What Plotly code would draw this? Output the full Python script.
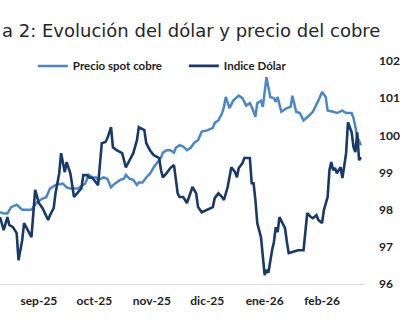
import plotly.graph_objects as go

# Tick labels (month starts)
tick_dates = ["2025-09-01", "2025-10-01", "2025-11-01", "2025-12-01", "2026-01-01", "2026-02-01"]
tick_labels = ["sep-25", "oct-25", "nov-25", "dic-25", "ene-26", "feb-26"]
dollar_ticks = [96, 97, 98, 99, 100, 101, 102]

# Precio spot cobre (US$/lb, left axis - cropped out of view)
copper_dates = [
    "2025-08-11", "2025-08-13", "2025-08-15", "2025-08-17", "2025-08-20", "2025-08-23", "2025-08-25",
    "2025-08-28", "2025-08-31", "2025-09-03", "2025-09-05", "2025-09-07", "2025-09-10", "2025-09-13",
    "2025-09-14", "2025-09-16", "2025-09-18", "2025-09-22", "2025-09-26", "2025-09-28", "2025-09-30",
    "2025-10-02", "2025-10-03", "2025-10-06", "2025-10-08", "2025-10-10", "2025-10-12", "2025-10-15",
    "2025-10-17", "2025-10-18", "2025-10-20", "2025-10-22", "2025-10-24", "2025-10-25", "2025-10-27",
    "2025-10-29", "2025-10-31", "2025-11-02", "2025-11-04", "2025-11-06", "2025-11-07", "2025-11-09",
    "2025-11-11", "2025-11-13", "2025-11-14", "2025-11-16", "2025-11-18", "2025-11-20", "2025-11-22",
    "2025-11-24", "2025-11-26", "2025-11-28", "2025-12-01", "2025-12-04", "2025-12-05", "2025-12-07",
    "2025-12-09", "2025-12-10", "2025-12-11", "2025-12-13", "2025-12-15", "2025-12-17", "2025-12-18",
    "2025-12-20", "2025-12-22", "2025-12-24", "2025-12-25", "2025-12-27", "2025-12-28", "2025-12-30",
    "2025-12-31", "2026-01-02", "2026-01-04", "2026-01-06", "2026-01-07", "2026-01-08", "2026-01-10",
    "2026-01-13", "2026-01-15", "2026-01-16", "2026-01-18", "2026-01-20", "2026-01-22", "2026-01-25",
    "2026-01-27", "2026-01-30", "2026-02-01", "2026-02-03", "2026-02-04", "2026-02-07", "2026-02-09",
    "2026-02-12", "2026-02-14", "2026-02-17", "2026-02-18", "2026-02-19", "2026-02-20", "2026-02-22",
]
copper_values = [
    4.58, 4.57, 4.57, 4.62, 4.64, 4.60, 4.60,
    4.60, 4.66, 4.69, 4.70, 4.77, 4.80, 4.81,
    4.81, 4.78, 4.77, 4.77, 4.81, 4.88, 4.86,
    4.86, 4.84, 4.86, 4.85, 4.78, 4.81, 4.84,
    4.85, 4.88, 4.85, 4.84, 4.80, 4.82, 4.82,
    4.86, 4.89, 4.94, 4.98, 5.02, 5.06, 5.08,
    5.08, 5.06, 5.10, 5.12, 5.11, 5.08, 5.10,
    5.14, 5.16, 5.23, 5.24, 5.26, 5.30, 5.32,
    5.38, 5.43, 5.51, 5.42, 5.48, 5.51, 5.52,
    5.50, 5.44, 5.46, 5.43, 5.35, 5.46, 5.48,
    5.43, 5.67, 5.51, 5.50, 5.47, 5.51, 5.39,
    5.42, 5.43, 5.52, 5.39, 5.38, 5.32, 5.36,
    5.39, 5.48, 5.55, 5.51, 5.40, 5.39, 5.38,
    5.40, 5.38, 5.38, 5.34, 5.27, 5.19, 5.12,
]

# Indice Dólar (right axis)
dollar_dates = [
    "2025-08-11", "2025-08-13", "2025-08-15", "2025-08-16", "2025-08-18", "2025-08-20", "2025-08-21",
    "2025-08-23", "2025-08-24", "2025-08-27", "2025-08-28", "2025-08-30", "2025-09-01", "2025-09-03",
    "2025-09-05", "2025-09-06", "2025-09-07", "2025-09-09", "2025-09-10", "2025-09-12", "2025-09-13",
    "2025-09-15", "2025-09-16", "2025-09-18", "2025-09-20", "2025-09-22", "2025-09-24", "2025-09-25",
    "2025-09-27", "2025-09-28", "2025-09-30", "2025-10-03", "2025-10-04", "2025-10-05", "2025-10-07",
    "2025-10-08", "2025-10-10", "2025-10-11", "2025-10-13", "2025-10-16", "2025-10-17", "2025-10-18",
    "2025-10-20", "2025-10-22", "2025-10-24", "2025-10-25", "2025-10-26", "2025-10-28", "2025-10-29",
    "2025-10-31", "2025-11-02", "2025-11-05", "2025-11-06", "2025-11-07", "2025-11-09", "2025-11-11",
    "2025-11-13", "2025-11-14", "2025-11-15", "2025-11-16", "2025-11-18", "2025-11-20", "2025-11-21",
    "2025-11-23", "2025-11-25", "2025-11-26", "2025-11-28", "2025-12-01", "2025-12-04", "2025-12-05",
    "2025-12-07", "2025-12-09", "2025-12-10", "2025-12-12", "2025-12-14", "2025-12-16", "2025-12-17",
    "2025-12-18", "2025-12-20", "2025-12-21", "2025-12-24", "2025-12-25", "2025-12-26", "2025-12-27",
    "2025-12-28", "2025-12-30", "2025-12-31", "2026-01-01", "2026-01-02", "2026-01-03", "2026-01-05",
    "2026-01-06", "2026-01-07", "2026-01-08", "2026-01-09", "2026-01-12", "2026-01-13", "2026-01-14",
    "2026-01-16", "2026-01-19", "2026-01-22", "2026-01-24", "2026-01-26", "2026-01-27", "2026-01-29",
    "2026-01-30", "2026-02-01", "2026-02-02", "2026-02-04", "2026-02-05", "2026-02-06", "2026-02-07",
    "2026-02-08", "2026-02-09", "2026-02-11", "2026-02-12", "2026-02-14", "2026-02-15", "2026-02-17",
    "2026-02-18", "2026-02-19", "2026-02-20", "2026-02-21", "2026-02-22",
]
dollar_values = [
    97.80, 97.45, 97.80, 97.59, 97.53, 97.37, 96.64,
    97.18, 97.64, 97.37, 97.26, 98.53, 98.18, 98.04,
    97.80, 97.72, 97.85, 98.04, 98.44, 98.98, 99.52,
    99.01, 99.28, 98.98, 98.34, 98.47, 98.58, 98.93,
    98.93, 98.87, 98.85, 98.66, 99.14, 99.79, 99.82,
    99.92, 100.22, 99.68, 99.60, 99.52, 99.33, 99.14,
    99.33, 99.52, 99.87, 100.22, 100.19, 100.14, 99.79,
    99.60, 99.47, 99.39, 99.06, 98.87, 98.98, 99.12,
    99.20, 98.87, 98.44, 98.34, 98.34, 98.18, 98.34,
    98.61, 98.44, 98.07, 97.93, 97.99, 98.07, 98.31,
    98.44, 98.34, 98.26, 98.61, 99.14, 99.01, 98.87,
    99.12, 99.25, 99.39, 99.39, 98.71, 98.71, 98.26,
    97.64, 97.26, 96.64, 96.24, 96.38, 96.30, 96.91,
    97.13, 97.53, 97.40, 97.80, 97.50, 97.13, 96.83,
    96.86, 96.91, 96.91, 97.91, 97.80, 97.77, 97.85,
    97.72, 97.64, 97.99, 98.34, 99.06, 99.28, 99.06,
    99.12, 98.98, 99.14, 98.85, 99.52, 100.35, 100.08,
    99.68, 99.55, 100.08, 99.33, 99.41,
]

title_text = "a 2: Evolución del dólar y precio del cobre"

LIGHT = "#4a87c9"
DARK = "#173a6a"
BOLD_FONT = "Lato"

fig = go.Figure()
fig.add_trace(go.Scatter(
    x=copper_dates, y=copper_values, name="Precio spot cobre", mode="lines",
    line=dict(color=LIGHT, width=2.5), yaxis="y",
))
fig.add_trace(go.Scatter(
    x=dollar_dates, y=dollar_values, name="Indice Dólar", mode="lines",
    line=dict(color=DARK, width=2.6), yaxis="y2",
))

fig.update_layout(
    width=400, height=326,
    margin=dict(l=0, r=25, t=61, b=42),
    paper_bgcolor="white", plot_bgcolor="white",
    showlegend=True,
    legend=dict(
        orientation="h", x=0.09, y=0.978, xanchor="left", yanchor="middle",
        font=dict(family=BOLD_FONT, size=11.5, color="#222222", weight="bold"),
        bgcolor="rgba(0,0,0,0)", entrywidth=106, itemwidth=30,
    ),
    xaxis=dict(
        type="date", range=["2025-08-11", "2026-02-24 05:00"],
        tickvals=tick_dates, ticktext=tick_labels, ticks="",
        showgrid=False, zeroline=False, showline=True, linecolor="#d9d9d9", linewidth=1,
        tickfont=dict(family=BOLD_FONT, size=12, color="#222222", weight="bold"),
        ticklabelstandoff=6,
    ),
    yaxis=dict(range=[4.0, 5.8], visible=False, showgrid=False, zeroline=False),
    yaxis2=dict(
        range=[96, 102], tickvals=dollar_ticks, overlaying="y", side="right",
        showgrid=False, zeroline=False, showline=False, ticks="",
        tickfont=dict(family=BOLD_FONT, size=12, color="#222222", weight="bold"),
        ticklabelstandoff=13,
    ),
    annotations=[dict(
        text=title_text, xref="paper", yref="paper", x=0, y=1.139,
        xanchor="left", yanchor="middle", showarrow=False,
        font=dict(family="DejaVu Sans", size=18, color="#262626"),
    )],
)

fig.write_html("out.html")
